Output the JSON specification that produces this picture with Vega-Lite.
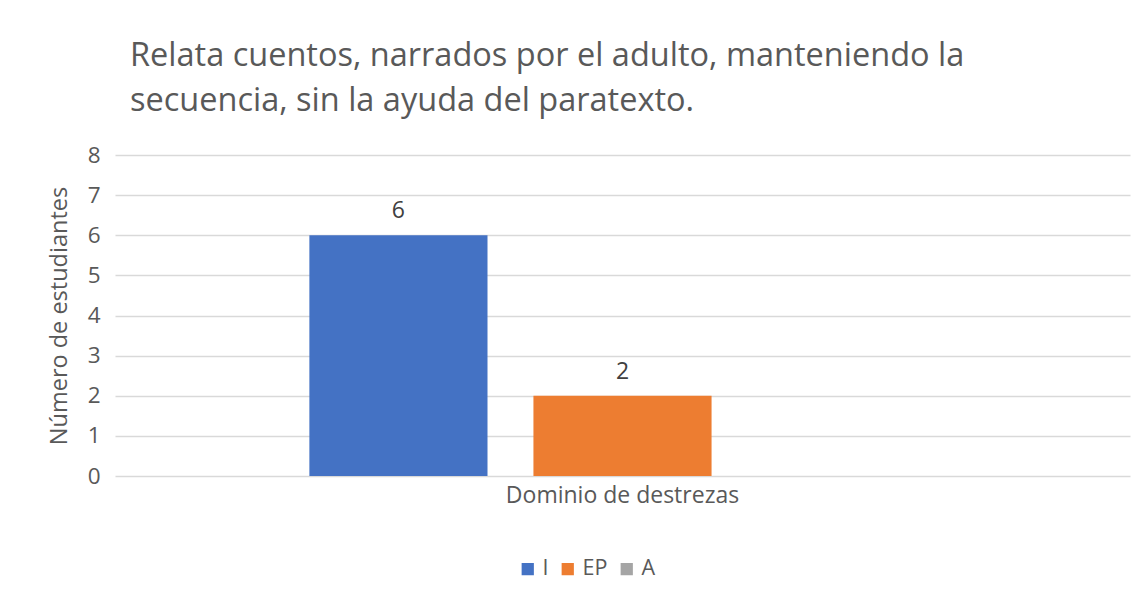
{
  "$schema": "https://vega.github.io/schema/vega-lite/v6.json",
  "width": 1015,
  "height": 321,
  "autosize": "none",
  "padding": {"left": 115, "top": 155, "right": 14, "bottom": 125},
  "background": "white",
  "data": {"values": [
    {"cat": "Dominio de destrezas", "serie": "I", "valor": 6},
    {"cat": "Dominio de destrezas", "serie": "EP", "valor": 2},
    {"cat": "Dominio de destrezas", "serie": "A", "valor": null}
  ]},
  "title": {
    "text": ["Relata cuentos, narrados por el adulto, manteniendo la", "secuencia, sin la ayuda del paratexto."],
    "anchor": "start",
    "frame": "group",
    "dx": 15,
    "offset": 27,
    "fontSize": 32.5,
    "lineHeight": 45,
    "font": "Open Sans",
    "fontWeight": "normal",
    "color": "#595959"
  },
  "config": {
    "view": {"stroke": null},
    "font": "Open Sans"
  },
  "encoding": {
    "x": {
      "field": "cat", "type": "nominal",
      "scale": {"paddingInner": 0, "paddingOuter": 0.255},
      "axis": {"title": null, "domain": false, "ticks": false, "labelAngle": 0, "labelFontSize": 23, "labelLimit": 600, "labelColor": "#595959", "labelPadding": 8}
    },
    "xOffset": {
      "field": "serie", "type": "nominal",
      "scale": {"domain": ["I", "EP", "A"], "paddingInner": 0.205, "paddingOuter": 0.1025}
    },
    "y": {
      "field": "valor", "type": "quantitative",
      "scale": {"domain": [0, 8], "nice": false},
      "axis": {"title": "Número de estudiantes", "values": [0,1,2,3,4,5,6,7,8], "domain": false, "ticks": false, "gridColor": "#d9d9d9", "gridWidth": 1.5, "labelFontSize": 22.5, "labelColor": "#595959", "labelPadding": 15, "titleFontSize": 23.5, "titleFontWeight": "normal", "titleColor": "#595959", "titlePadding": 16}
    }
  },
  "layer": [
    {
      "mark": {"type": "bar"},
      "encoding": {
        "color": {
          "field": "serie", "type": "nominal",
          "scale": {"domain": ["I", "EP", "A"], "range": ["#4472C4", "#ED7D31", "#A5A5A5"]},
          "legend": {"title": null, "orient": "none", "legendX": 402, "legendY": 403, "direction": "horizontal", "symbolType": "square", "symbolSize": 150, "symbolStrokeWidth": 0, "labelFontSize": 21.5, "labelColor": "#595959", "labelOffset": 4, "columnPadding": 8}
        }
      }
    },
    {
      "mark": {"type": "text", "baseline": "bottom", "dy": -12, "fontSize": 23, "color": "#404040"},
      "encoding": {"text": {"field": "valor", "type": "quantitative"}}
    }
  ]
}
